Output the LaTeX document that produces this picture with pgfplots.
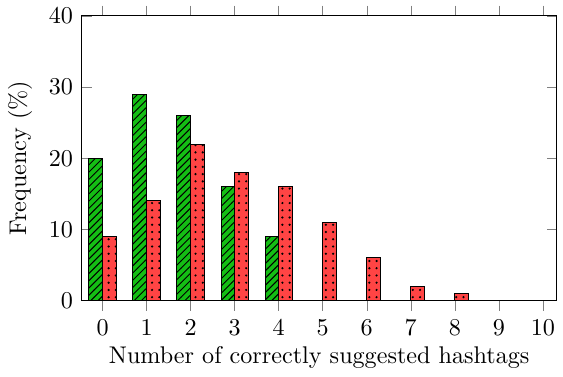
\documentclass[border=0pt]{standalone}
\usepackage{pgfplots}
\pgfplotsset{compat=1.18}
\usetikzlibrary{patterns}
\definecolor{mygreen}{RGB}{20,190,20}
\definecolor{myred}{RGB}{255,68,68}
\begin{document}
\begin{tikzpicture}
\begin{axis}[
  scale only axis,
  width=197pt, height=118pt,
  ybar=0pt, bar width=0.31,
  xmin=-0.48, xmax=10.32,
  ymin=0, ymax=40,
  xtick={0,...,10},
  ytick={0,10,20,30,40},
  xlabel={Number of correctly suggested hashtags},
  ylabel={Frequency (\%)},
  xlabel style={yshift=2pt},
]
\addplot[draw=black, fill=mygreen, postaction={pattern=north east lines}] coordinates {
(0,20) (1,29) (2,26) (3,16) (4,9) (5,0) (6,0) (7,0) (8,0) (9,0) (10,0)};
\addplot[draw=black, fill=myred, postaction={pattern=dots}] coordinates {
(0,9) (1,14) (2,22) (3,18) (4,16) (5,11) (6,6) (7,2) (8,1) (9,0) (10,0)};
\end{axis}
\end{tikzpicture}
\end{document}
